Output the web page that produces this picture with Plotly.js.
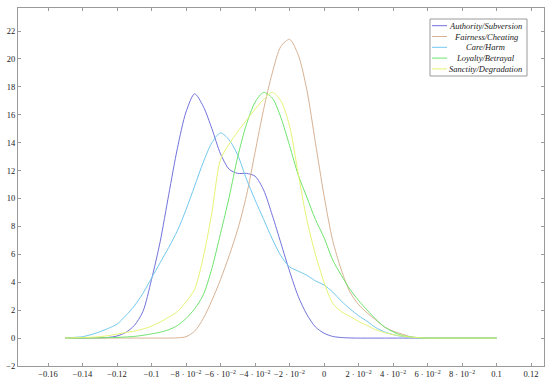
<!DOCTYPE html>
<html>
<head>
<meta charset="utf-8">
<script src="https://cdn.plot.ly/plotly-3.0.1.min.js"></script>
<style>html,body{margin:0;padding:0;background:#fff;}#chart{width:550px;height:384px;}</style>
</head>
<body>
<div id="chart"></div>
<script>
const xs = [-0.15,-0.145,-0.14,-0.135,-0.13,-0.125,-0.12,-0.115,-0.11,-0.105,
  -0.1,-0.095,-0.09,-0.085,-0.08,-0.075,-0.07,-0.065,-0.06,-0.055,
  -0.05,-0.045,-0.04,-0.035,-0.03,-0.025,-0.02,-0.015,-0.01,-0.005,
  0,0.005,0.01,0.015,0.02,0.025,0.03,0.035,0.04,0.045,
  0.05,0.055,0.06,0.065,0.07,0.075,0.08,0.085,0.09,0.095,0.1];

const authority = [0,0,0,0.01,0.02,0.05,0.15,0.4,0.9,1.9,
  4.2,6.9,10.3,13.6,16.2,17.5,16.6,15.0,13.2,12.1,
  11.8,11.8,11.6,10.6,8.8,6.8,4.8,3.0,1.7,0.8,
  0.35,0.12,0.04,0.01,0,0,0,0,0,0,
  0,0,0,0,0,0,0,0,0,0,0];
const fairness = [0,0,0,0,0,0,0,0,0,0,
  0,0,0,0.02,0.1,0.5,1.4,2.7,4.2,5.9,
  7.8,10.2,13.3,16.4,19.0,20.9,21.4,20.3,17.8,14.0,
  10.2,7.0,4.9,3.3,2.4,1.8,1.3,0.8,0.5,0.3,
  0.1,0.03,0,0,0,0,0,0,0,0,0];
const care = [0,0.05,0.1,0.25,0.45,0.7,1.0,1.6,2.3,3.2,
  4.3,5.4,6.5,7.7,9.2,10.9,12.6,14.0,14.7,14.2,
  13.1,11.4,9.9,8.5,7.1,5.9,5.1,4.8,4.5,4.1,
  3.8,3.3,2.65,2.1,1.6,1.2,0.75,0.45,0.25,0.12,
  0.05,0.02,0,0,0,0,0,0,0,0,0];
const loyalty = [0,0,0,0.01,0.02,0.03,0.05,0.08,0.12,0.2,
  0.3,0.42,0.6,0.9,1.4,2.1,3.1,5.0,7.5,10.1,
  13.0,15.3,16.9,17.6,17.2,15.8,13.8,11.7,10.1,8.5,
  7.2,5.6,4.5,3.5,2.7,2.0,1.35,0.8,0.45,0.2,
  0.08,0.03,0,0,0,0,0,0,0,0,0];
const sanctity = [0,0.02,0.04,0.06,0.1,0.18,0.28,0.4,0.5,0.65,
  0.85,1.15,1.5,1.9,2.6,3.5,5.8,9.0,12.8,13.9,
  14.8,15.6,16.4,17.1,17.6,17.0,15.2,11.8,8.5,6.0,
  4.0,2.5,1.9,1.55,1.2,0.9,0.6,0.4,0.25,0.15,
  0.07,0.03,0,0,0,0,0,0,0,0,0];

const seriesNames = ["Authority/Subversion","Fairness/Cheating","Care/Harm","Loyalty/Betrayal","Sanctity/Degradation"];
const seriesColors = ["#7272dc","#d8b294","#72c8ee","#6ee46e","#e6f474"];
const seriesValues = [authority, fairness, care, loyalty, sanctity];

const xTickVals = [-0.16,-0.14,-0.12,-0.1,-0.08,-0.06,-0.04,-0.02,0,0.02,0.04,0.06,0.08,0.1,0.12];
const xTickText = ["\u22120.16","\u22120.14","\u22120.12","\u22120.1",
  "\u22128 \u00b7 10<sup>\u22122</sup>","\u22126 \u00b7 10<sup>\u22122</sup>","\u22124 \u00b7 10<sup>\u22122</sup>","\u22122 \u00b7 10<sup>\u22122</sup>",
  "0","2 \u00b7 10<sup>\u22122</sup>","4 \u00b7 10<sup>\u22122</sup>","6 \u00b7 10<sup>\u22122</sup>","8 \u00b7 10<sup>\u22122</sup>","0.1","0.12"];
const yTickVals = [-2,0,2,4,6,8,10,12,14,16,18,20,22];
const yTickText = ["\u22122","0","2","4","6","8","10","12","14","16","18","20","22"];

const traces = seriesNames.map((n,i)=>({
  type:'scatter', mode:'lines', name:n, x:xs, y:seriesValues[i],
  line:{color:seriesColors[i], width:1, shape:'spline', smoothing:0.8}
}));

const W = 550, H = 384;
const M = {l:18, r:6, t:8, b:18};
const pw = W - M.l - M.r, ph = H - M.t - M.b;
const px2paperX = p => (p - M.l) / pw;
const px2paperY = p => (H - M.b - p) / ph;

const serif = '"Liberation Serif", "DejaVu Serif", serif';
const tickFont = {family:serif, size:8.5, color:'#222'};
const axisCommon = {showgrid:false, zeroline:false, showline:true, linecolor:'#9a9a9a', linewidth:1,
  mirror:'ticks', ticks:'inside', ticklen:3, tickcolor:'#9a9a9a', tickfont:tickFont, tickangle:0};

const legBox = {x0:430, x1:527, y0:19, y1:76};
const legRowY0 = 25.7, legRowStep = 10.8;
const legLineX0 = 432, legLineX1 = 447, legTextX = 486;

const shapes = [{type:'rect', xref:'paper', yref:'paper',
  x0:px2paperX(legBox.x0), x1:px2paperX(legBox.x1), y0:px2paperY(legBox.y1), y1:px2paperY(legBox.y0),
  line:{color:'#9a9a9a', width:1}, fillcolor:'#fff', layer:'above'}];
const annotations = [];
seriesNames.forEach((n,i)=>{
  const yy = px2paperY(legRowY0 + i*legRowStep);
  shapes.push({type:'line', xref:'paper', yref:'paper', x0:px2paperX(legLineX0), x1:px2paperX(legLineX1), y0:yy, y1:yy,
    line:{color:seriesColors[i], width:1}, layer:'above'});
  annotations.push({xref:'paper', yref:'paper', x:px2paperX(legTextX), y:yy, xanchor:'center', yanchor:'middle',
    text:n, showarrow:false, font:{family:serif, size:8.5, style:'italic', color:'#222'}});
});

const layout = {
  width:W, height:H,
  margin:{l:M.l, r:M.r, t:M.t, b:M.b, pad:0},
  paper_bgcolor:'#fff', plot_bgcolor:'#fff',
  showlegend:false,
  xaxis:Object.assign({}, axisCommon, {range:[-0.1774,0.1275], tickmode:'array', tickvals:xTickVals, ticktext:xTickText}),
  yaxis:Object.assign({}, axisCommon, {range:[-2,23.65], tickmode:'array', tickvals:yTickVals, ticktext:yTickText}),
  shapes:shapes, annotations:annotations
};

Plotly.newPlot('chart', traces, layout, {staticPlot:true, displayModeBar:false});
</script>
</body>
</html>
